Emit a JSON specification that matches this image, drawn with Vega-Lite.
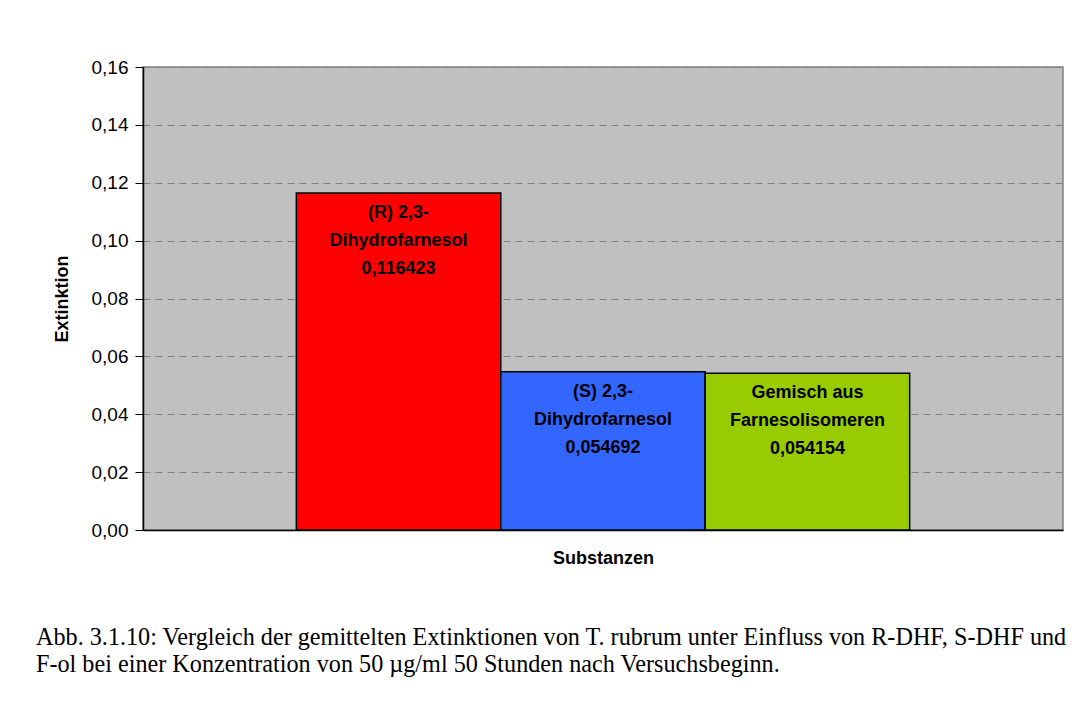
{
  "$schema": "https://vega.github.io/schema/vega-lite/v6.json",
  "autosize": {"type": "none"},
  "padding": {"left": 143, "top": 67, "right": 26, "bottom": 185},
  "width": 920,
  "height": 463,
  "background": "white",
  "data": {
    "values": [
      {"Substanz": "(R) 2,3-Dihydrofarnesol", "Extinktion": 0.116423, "label": "(R) 2,3-\nDihydrofarnesol\n0,116423"},
      {"Substanz": "(S) 2,3-Dihydrofarnesol", "Extinktion": 0.054692, "label": "(S) 2,3-\nDihydrofarnesol\n0,054692"},
      {"Substanz": "Gemisch aus Farnesolisomeren", "Extinktion": 0.054154, "label": "Gemisch aus\nFarnesolisomeren\n0,054154"}
    ]
  },
  "title": {
    "text": ["Abb. 3.1.10: Vergleich der gemittelten Extinktionen von T. rubrum unter Einfluss von R-DHF, S-DHF und", "F-ol bei einer Konzentration von 50 µg/ml 50 Stunden nach Versuchsbeginn."],
    "orient": "bottom",
    "anchor": "start",
    "frame": "group",
    "dx": -107,
    "offset": 59,
    "font": "Liberation Serif",
    "fontSize": 24.2,
    "fontWeight": "normal",
    "lineHeight": 27,
    "color": "black",
    "baseline": "top"
  },
  "encoding": {
    "x": {
      "field": "Substanz",
      "type": "nominal",
      "sort": null,
      "scale": {"paddingInner": 0, "paddingOuter": 0.75},
      "axis": {"labels": false, "ticks": false, "title": "Substanzen", "titlePadding": 19, "domainColor": "black", "domainWidth": 1.5}
    },
    "y": {
      "field": "Extinktion",
      "type": "quantitative",
      "scale": {"domain": [0, 0.16], "nice": false},
      "axis": {
        "values": [0, 0.02, 0.04, 0.06, 0.08, 0.1, 0.12, 0.14, 0.16],
        "labelExpr": "replace(format(datum.value, '.2f'), '.', ',')",
        "title": "Extinktion",
        "titlePadding": 20,
        "tickSize": 8,
        "labelPadding": 7,
        "domainColor": "black",
        "domainWidth": 1.5,
        "tickColor": "black",
        "grid": true,
        "gridColor": "#808080",
        "gridDash": [7, 5],
        "gridWidth": 1
      }
    }
  },
  "layer": [
    {
      "mark": {"type": "bar", "stroke": "black", "strokeWidth": 1.5},
      "encoding": {
        "color": {
          "field": "Substanz",
          "type": "nominal",
          "sort": null,
          "scale": {"range": ["#FF0000", "#3366FF", "#99CC00"]},
          "legend": null
        }
      }
    },
    {
      "mark": {"type": "text", "baseline": "top", "align": "center", "dy": 11, "font": "Liberation Sans", "fontSize": 18, "fontWeight": "bold", "lineHeight": 28, "lineBreak": "\n", "color": "black"},
      "encoding": {
        "text": {"field": "label", "type": "nominal"}
      }
    }
  ],
  "config": {
    "view": {"fill": "#C0C0C0", "stroke": "#808080", "strokeWidth": 1.5},
    "axis": {
      "labelFont": "Liberation Sans",
      "labelFontSize": 19,
      "labelColor": "black",
      "titleFont": "Liberation Sans",
      "titleFontSize": 18,
      "titleFontWeight": "bold",
      "titleColor": "black"
    }
  }
}
